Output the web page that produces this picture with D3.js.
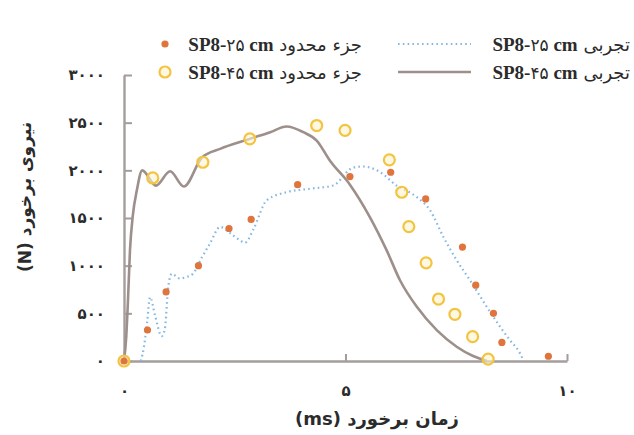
<!DOCTYPE html>
<html>
<head>
<meta charset="utf-8">
<script src="https://cdn.jsdelivr.net/npm/d3@7"></script>
<style>
  html, body { margin: 0; padding: 0; background: #fff; }
  svg { display: block; }
  .persian { font-family: "DejaVu Sans", "Noto Sans", sans-serif; }
  .latin { font-family: "Liberation Serif", "DejaVu Serif", serif; }
</style>
</head>
<body>
<svg id="chart" width="634" height="435"></svg>
<script>
// Impact time (ms) and impact force (N)
const feSP825Time  = [0, 0.53, 0.95, 1.68, 2.37, 2.87, 3.92, 5.1, 6.02, 6.81, 7.64, 7.94, 8.34, 8.53, 9.58];
const feSP825Force = [0, 325, 725, 1000, 1390, 1485, 1850, 1935, 1980, 1700, 1195, 795, 500, 195, 50];

const feSP845Time  = [0, 0.65, 1.78, 2.84, 4.35, 4.99, 5.99, 6.27, 6.43, 6.82, 7.10, 7.47, 7.87, 8.22];
const feSP845Force = [0, 1920, 2085, 2330, 2470, 2420, 2110, 1770, 1410, 1030, 650, 490, 255, 20];

const expSP845Time  = [0, 0.05, 0.09, 0.135, 0.2, 0.29, 0.41, 0.72, 1.04, 1.35, 1.76, 2.17, 2.84, 3.3, 3.67, 4.05, 4.35, 4.65, 5.1, 5.55, 5.93, 6.23, 6.61, 7.06, 7.51, 7.88, 8.19];
const expSP845Force = [0, 250, 640, 1160, 1530, 1790, 2000, 1840, 1990, 1830, 2135, 2225, 2330, 2400, 2460, 2400, 2312, 2100, 1850, 1510, 1160, 847, 568, 324, 150, 52, 0];

const expSP825Time  = [0.38, 0.45, 0.52, 0.59, 0.7, 0.85, 0.92, 1.0, 1.08, 1.26, 1.4, 1.56, 1.75, 1.94, 2.17, 2.4, 2.62, 2.73, 2.92, 3.22, 3.67, 4.2, 4.72, 5.18, 5.4, 5.78, 6.15, 6.61, 6.91, 7.21, 7.51, 7.81, 8.19, 8.49, 8.71, 8.94, 9.02];
const expSP825Force = [0, 150, 400, 670, 480, 260, 330, 780, 915, 865, 880, 917, 1080, 1232, 1406, 1340, 1265, 1240, 1380, 1685, 1771, 1807, 1841, 2030, 2040, 1982, 1841, 1719, 1580, 1301, 1057, 847, 568, 359, 220, 80, 0];

const xTicks = [0, 5, 10];
const yTicks = [0, 500, 1000, 1500, 2000, 2500, 3000];

const xTitle = "زمان برخورد (ms)";
const yTitle = "نیروی برخورد (N)";

// Legend labels: Persian method name + specimen name
const legendMethods  = ["جزء محدود", "جزء محدود", "تجربی", "تجربی"];
const legendSpecimen = ["۲۵", "۴۵", "۲۵", "۴۵"];
const legendKinds    = ["dot", "ring", "dotted", "solid"];

const colors = {
  axis: "#a59d9b",
  text: "#2b2b2b",
  dot: "#e0743d",
  ringStroke: "#f2c441",
  ringFill: "#fdf4cf",
  dotted: "#86b9e2",
  solid: "#9d8f8b"
};

const toPersian = s => String(s).replace(/\d/g, d => "۰۱۲۳۴۵۶۷۸۹"[d]);
const zip = (ts, fs) => ts.map((t, i) => ({ t, f: fs[i] }));

const svg = d3.select("#chart");
const x = d3.scaleLinear().domain([0, 10]).range([124, 567]);
const y = d3.scaleLinear().domain([0, 3000]).range([361, 75]);

// Axes with inward ticks
const yAxis = svg.append("g")
  .attr("transform", `translate(${x(0)},0)`)
  .call(d3.axisLeft(y).tickValues(yTicks).tickSizeInner(-8).tickSizeOuter(0)
    .tickPadding(19).tickFormat(toPersian));
const xAxis = svg.append("g")
  .attr("transform", `translate(0,${y(0)})`)
  .call(d3.axisBottom(x).tickValues(xTicks).tickSizeInner(-7).tickSizeOuter(0)
    .tickPadding(24).tickFormat(toPersian));

[yAxis, xAxis].forEach(g => {
  g.select(".domain").attr("stroke", colors.axis).attr("stroke-width", 2.4);
  g.selectAll(".tick line").attr("stroke", colors.axis).attr("stroke-width", 2);
  g.selectAll(".tick text")
    .attr("class", "persian")
    .attr("fill", colors.text)
    .attr("font-size", 15)
    .attr("font-weight", "bold")
    .attr("letter-spacing", 2.5);
});
// no tick mark at the origin on the x axis
xAxis.selectAll(".tick").filter(d => d === 0).select("line").remove();

// Experimental curves
const line = d3.line().x(d => x(d.t)).y(d => y(d.f)).curve(d3.curveMonotoneX);

svg.append("path")
  .datum(zip(expSP825Time, expSP825Force))
  .attr("d", line)
  .attr("fill", "none")
  .attr("stroke", colors.dotted)
  .attr("stroke-width", 2.2)
  .attr("stroke-dasharray", "1.6,3.2");

svg.append("path")
  .datum(zip(expSP845Time, expSP845Force))
  .attr("d", line)
  .attr("fill", "none")
  .attr("stroke", colors.solid)
  .attr("stroke-width", 2.6)
  .attr("stroke-linejoin", "round");

// Finite element results
svg.append("g").selectAll("circle")
  .data(zip(feSP845Time, feSP845Force))
  .join("circle")
  .attr("cx", d => x(d.t)).attr("cy", d => y(d.f)).attr("r", 5.5)
  .attr("fill", colors.ringFill).attr("fill-opacity", 0.6)
  .attr("stroke", colors.ringStroke).attr("stroke-width", 2.2);

svg.append("g").selectAll("circle")
  .data(zip(feSP825Time, feSP825Force))
  .join("circle")
  .attr("cx", d => x(d.t)).attr("cy", d => y(d.f)).attr("r", 3.6)
  .attr("fill", colors.dot);

// Axis titles
svg.append("text")
  .attr("class", "persian")
  .attr("x", 377).attr("y", 425)
  .attr("text-anchor", "middle")
  .attr("direction", "rtl")
  .attr("font-size", 18).attr("font-weight", "bold")
  .attr("fill", colors.text)
  .text(xTitle);

svg.append("text")
  .attr("class", "persian")
  .attr("transform", "translate(31,197) rotate(-90)")
  .attr("text-anchor", "middle")
  .attr("direction", "rtl")
  .attr("font-size", 17).attr("font-weight", "bold")
  .attr("fill", colors.text)
  .text(yTitle);

// Legend
const legendPos = [
  { sx: 165, tx: 362, y: 44 },
  { sx: 165, tx: 362, y: 72 },
  { sx: 398, tx: 630, y: 44 },
  { sx: 398, tx: 630, y: 72 }
];
const legend = svg.append("g");
legendKinds.forEach((kind, i) => {
  const p = legendPos[i];
  if (kind === "dot") {
    legend.append("circle").attr("cx", p.sx).attr("cy", p.y).attr("r", 3.6).attr("fill", colors.dot);
  } else if (kind === "ring") {
    legend.append("circle").attr("cx", p.sx).attr("cy", p.y).attr("r", 5.5)
      .attr("fill", colors.ringFill).attr("fill-opacity", 0.6)
      .attr("stroke", colors.ringStroke).attr("stroke-width", 2.2);
  } else {
    legend.append("line").attr("x1", p.sx).attr("x2", p.sx + 73).attr("y1", p.y).attr("y2", p.y)
      .attr("stroke", kind === "dotted" ? colors.dotted : colors.solid)
      .attr("stroke-width", kind === "dotted" ? 2.2 : 2.6)
      .attr("stroke-dasharray", kind === "dotted" ? "1.6,3.2" : null);
  }
  const t = legend.append("text")
    .attr("x", p.tx).attr("y", p.y)
    .attr("dy", "0.35em")
    .attr("direction", "rtl")
    .attr("text-anchor", "start")
    .attr("font-size", 19)
    .attr("fill", colors.text);
  t.append("tspan").attr("class", "persian").attr("font-size", 18).text(legendMethods[i] + " ");
  t.append("tspan").attr("class", "latin").attr("font-weight", "bold").text("SP8-");
  t.append("tspan").attr("class", "persian").attr("font-size", 17).text(legendSpecimen[i]);
  t.append("tspan").attr("class", "latin").attr("font-weight", "bold").text(" cm");
});
</script>
</body>
</html>
